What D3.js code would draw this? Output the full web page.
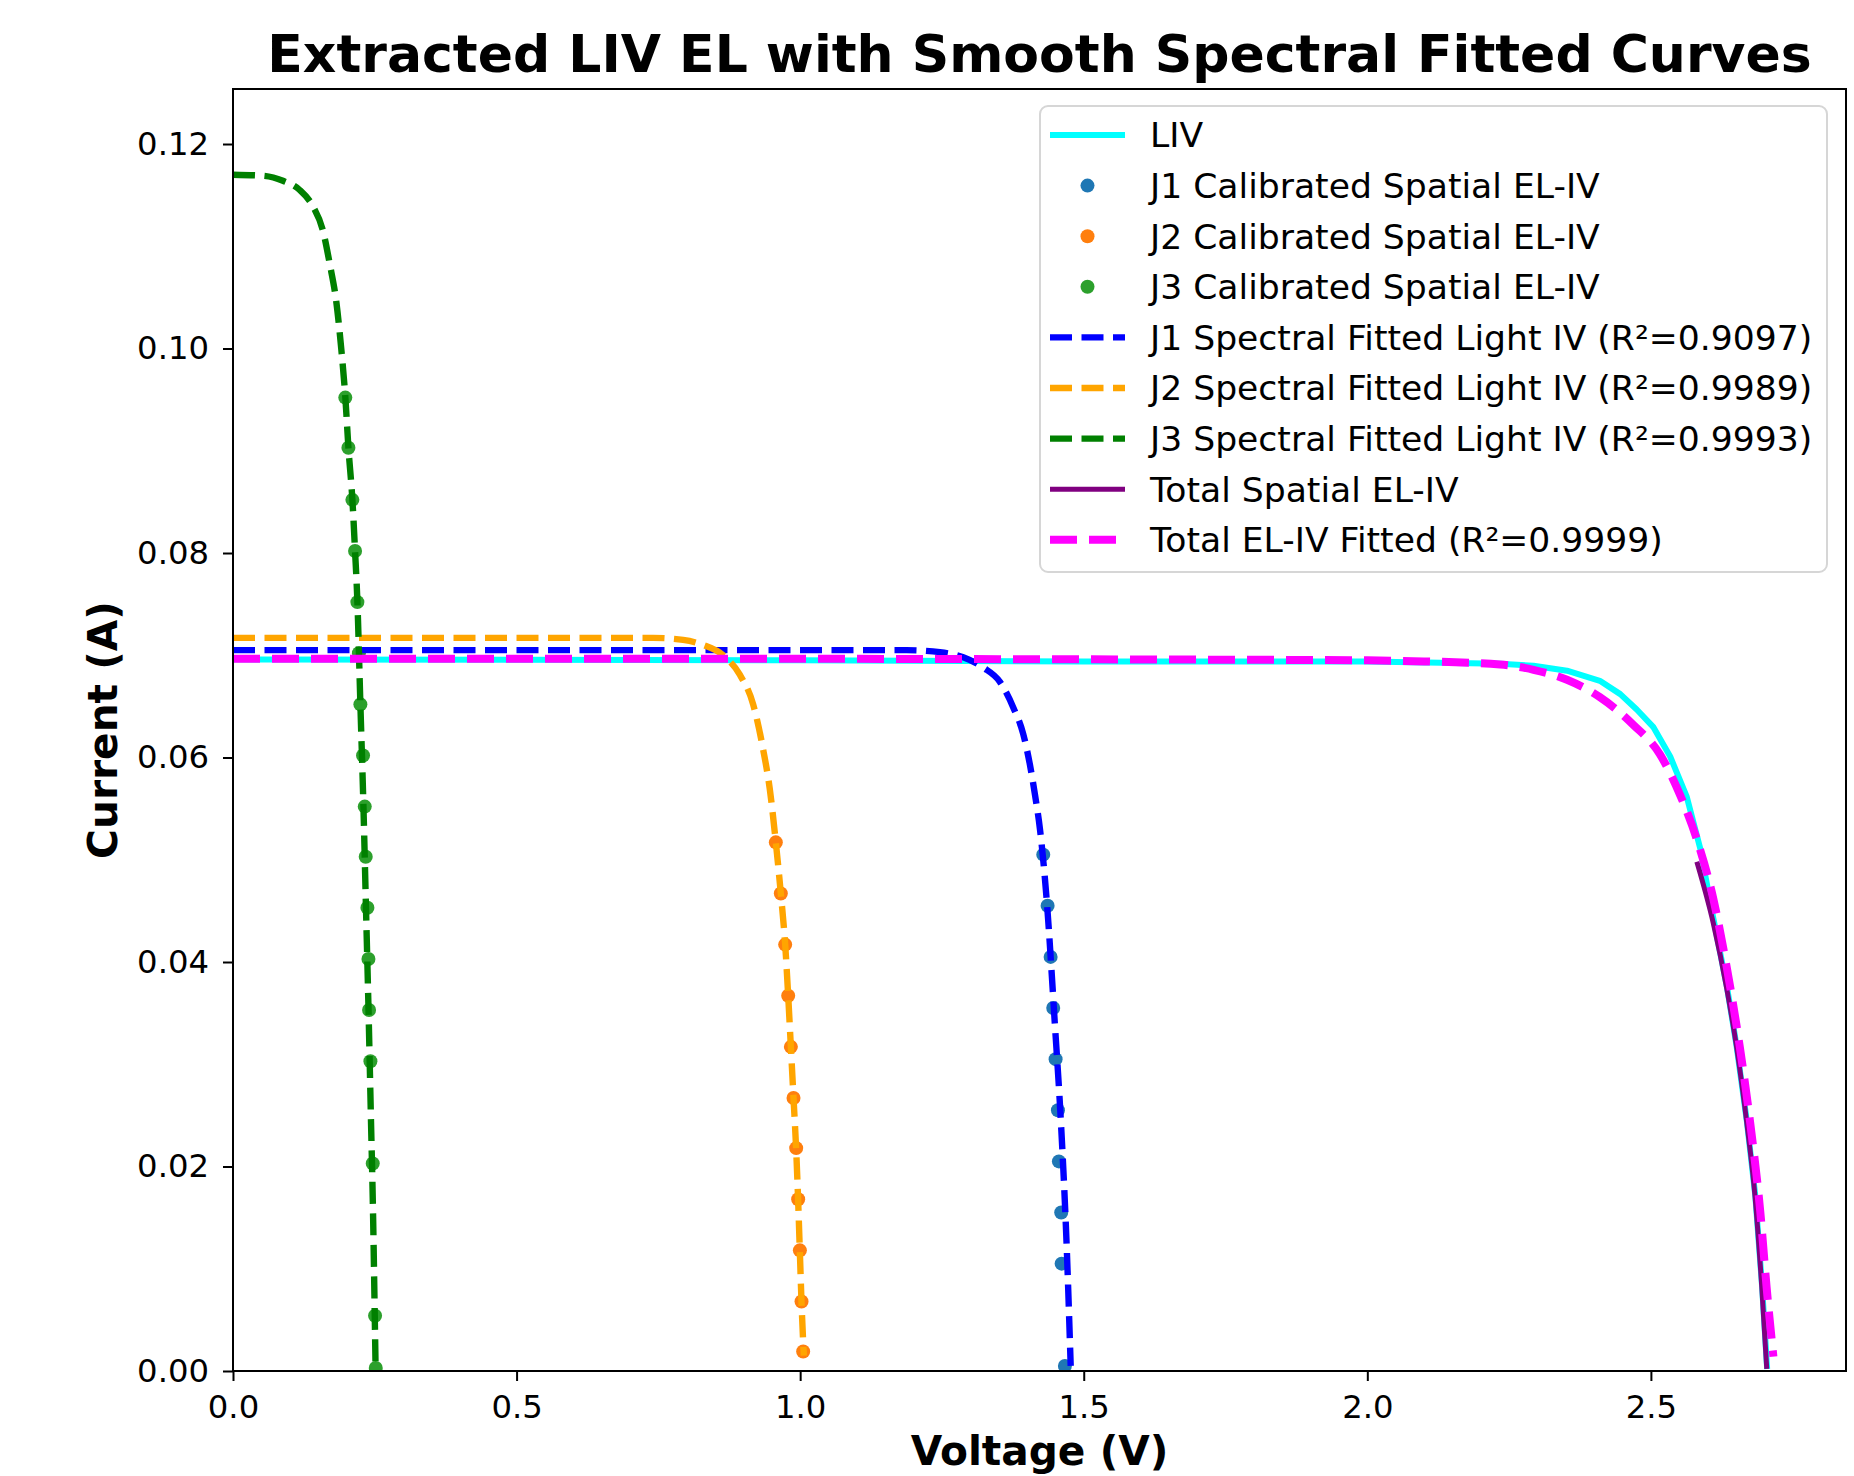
<!DOCTYPE html>
<html lang="en">
<head>
<meta charset="UTF-8">
<title>Extracted LIV EL with Smooth Spectral Fitted Curves</title>
<script src="https://d3js.org/d3.v7.min.js"></script>
<style>
  body { margin: 0; background: white; }
  svg { display: block; font-family: "DejaVu Sans", sans-serif; }
</style>
</head>
<body>
<div id="chart"></div>
<script>
// ---- data: [voltage (V), current (A)] ----
var livData = [[0,0.0696],[0.5,0.06955],[1.0,0.0695],[1.5,0.0694],[2.0,0.0694],[2.234,0.06916],
  [2.293,0.06897],[2.352,0.06849],[2.41,0.0675],[2.446,0.0662],[2.475,0.0647],[2.504,0.0630],
  [2.534,0.0601],[2.563,0.0562],[2.587,0.0511],[2.61,0.0443],[2.634,0.0376],[2.651,0.0318],
  [2.669,0.0245],[2.684,0.0172],[2.696,0.0083],[2.705,0.0002]];

var j1Points = [[1.4286,0.0505],[1.4363,0.0455],[1.4416,0.0405],[1.4462,0.0355],[1.4504,0.0305],
  [1.4545,0.0255],[1.4562,0.0205],[1.4603,0.0155],[1.461,0.0105],[1.4668,0.0005]];
var j2Points = [[0.9571,0.0517],[0.9659,0.0467],[0.9736,0.0417],[0.9789,0.0367],[0.9836,0.0317],
  [0.9883,0.0267],[0.993,0.0218],[0.9965,0.0168],[0.9995,0.0118],[1.0024,0.0068],[1.0053,0.0019]];
var j3Points = [[0.198,0.0952],[0.2035,0.0903],[0.2105,0.0852],[0.2152,0.0802],[0.2193,0.0752],
  [0.222,0.0702],[0.2246,0.0652],[0.2293,0.0602],[0.2323,0.0552],[0.234,0.0503],[0.237,0.0453],
  [0.2388,0.0403],[0.2399,0.0353],[0.2423,0.0303],[0.2464,0.0203],[0.2505,0.0054],[0.2517,0.0003]];

var j1Fit = [[0,0.0705],[0.6,0.0705],[1.1876,0.0705],[1.2464,0.0703],[1.2875,0.0698],[1.3228,0.0688],
  [1.3522,0.0674],[1.3757,0.0649],[1.3933,0.0623],[1.4051,0.0593],[1.4139,0.0564],[1.4228,0.0530],
  [1.4345,0.0462],[1.449,0.0340],[1.4598,0.0243],[1.470,0.0121],[1.477,0.0005]];
var j2Fit = [[0,0.0717],[0.4,0.0717],[0.7408,0.0717],[0.7937,0.0715],[0.829,0.0710],[0.8642,0.0700],
  [0.8936,0.0681],[0.9171,0.0652],[0.9347,0.0608],[0.9465,0.0569],[0.9571,0.0517],[0.9659,0.0467],
  [0.9736,0.0417],[0.9789,0.0367],[0.9836,0.0317],[0.9883,0.0267],[0.993,0.0216],[0.9965,0.0166],
  [0.9995,0.0116],[1.0024,0.0067],[1.0065,0.0015]];
var j3Fit = [[0,0.1170],[0.053,0.1169],[0.088,0.1164],[0.1176,0.1155],[0.141,0.1139],[0.1587,0.1115],
  [0.1705,0.1083],[0.1823,0.1045],[0.191,0.0999],[0.198,0.0953],[0.2035,0.0903],[0.2105,0.0852],
  [0.2152,0.0802],[0.2193,0.0753],[0.2246,0.0652],[0.2300,0.0552],[0.2345,0.0452],[0.2390,0.0352],
  [0.2430,0.0252],[0.2470,0.0152],[0.2500,0.0052],[0.2515,0.0]];

var totalSpatial = [[2.581,0.0498],[2.610,0.0438],[2.6337,0.0374],[2.6513,0.0316],[2.669,0.0243],
  [2.6837,0.0170],[2.6955,0.0082],[2.7043,0.0002]];
var totalFit = [[0,0.06965],[1.0,0.06965],[1.5,0.0696],[2.0,0.0695],[2.1,0.0694],[2.234,0.0691],
  [2.293,0.06858],[2.352,0.0676],[2.41,0.0659],[2.469,0.0632],[2.516,0.0603],[2.551,0.0564],
  [2.581,0.0520],[2.61,0.0462],[2.634,0.0394],[2.657,0.0316],[2.675,0.0243],[2.693,0.0155],
  [2.704,0.0082],[2.716,0.0014]];

var xTicks = [0, 0.5, 1.0, 1.5, 2.0, 2.5];
var yTicks = [0, 0.02, 0.04, 0.06, 0.08, 0.10, 0.12];

var legendLabels = ["LIV", "J1 Calibrated Spatial EL-IV", "J2 Calibrated Spatial EL-IV",
  "J3 Calibrated Spatial EL-IV", "J1 Spectral Fitted Light IV (R\u00b2=0.9097)",
  "J2 Spectral Fitted Light IV (R\u00b2=0.9989)", "J3 Spectral Fitted Light IV (R\u00b2=0.9993)",
  "Total Spatial EL-IV", "Total EL-IV Fitted (R\u00b2=0.9999)"];

// ---- layout ----
var W = 1854, H = 1476;
var margin = {top: 89, right: 8, bottom: 105, left: 233};
var width = W - margin.left - margin.right,
    height = H - margin.top - margin.bottom;

var svg = d3.select("#chart").append("svg")
    .attr("width", W)
    .attr("height", H);

var g = svg.append("g")
    .attr("transform", "translate(" + margin.left + "," + margin.top + ")");

var x = d3.scaleLinear().domain([0, 2.844]).range([0, width]);
var y = d3.scaleLinear().domain([0, 0.12538]).range([height, 0]);

g.append("clipPath").attr("id", "plotclip")
  .append("rect").attr("width", width).attr("height", height);

var plot = g.append("g").attr("clip-path", "url(#plotclip)");

var line = d3.line()
    .x(function(d) { return x(d[0]); })
    .y(function(d) { return y(d[1]); });
var smooth = d3.line()
    .x(function(d) { return x(d[0]); })
    .y(function(d) { return y(d[1]); })
    .curve(d3.curveMonotoneX);

// LIV
plot.append("path").datum(livData)
    .attr("d", line).attr("fill", "none")
    .attr("stroke", "#00ffff").attr("stroke-width", 6).attr("stroke-linejoin", "round");

// calibrated spatial points
var pointSets = [[j1Points, "#1f77b4"], [j2Points, "#ff7f0e"], [j3Points, "#2ca02c"]];
pointSets.forEach(function(p) {
  plot.selectAll(null).data(p[0]).enter().append("circle")
    .attr("cx", function(d) { return x(d[0]); })
    .attr("cy", function(d) { return y(d[1]); })
    .attr("r", 7)
    .attr("fill", p[1]);
});

// spectral fits
var fits = [[j1Fit, "#0000ff"], [j2Fit, "#ffa500"], [j3Fit, "#008000"]];
fits.forEach(function(f) {
  plot.append("path").datum(f[0])
    .attr("d", smooth).attr("fill", "none")
    .attr("stroke", f[1]).attr("stroke-width", 6.4)
    .attr("stroke-dasharray", "22,9.5");
});

// total spatial and total fit
plot.append("path").datum(totalSpatial)
    .attr("d", smooth).attr("fill", "none")
    .attr("stroke", "#800080").attr("stroke-width", 5);
plot.append("path").datum(totalFit)
    .attr("d", smooth).attr("fill", "none")
    .attr("stroke", "#ff00ff").attr("stroke-width", 8)
    .attr("stroke-dasharray", "27,12");

// axes
var xAxis = g.append("g")
    .attr("transform", "translate(0," + height + ")")
    .call(d3.axisBottom(x).tickValues(xTicks).tickFormat(d3.format(".1f")).tickSize(10).tickPadding(14));
var yAxis = g.append("g")
    .call(d3.axisLeft(y).tickValues(yTicks).tickFormat(d3.format(".2f")).tickSize(10).tickPadding(14));
[xAxis, yAxis].forEach(function(a) {
  a.select(".domain").remove();
  a.selectAll("line").attr("stroke", "#000").attr("stroke-width", 2);
  a.selectAll("text").attr("fill", "#000").style("font-size", "32.3px")
    .style("font-family", "DejaVu Sans");
});

g.append("rect")
    .attr("width", width).attr("height", height)
    .attr("fill", "none").attr("stroke", "#000").attr("stroke-width", 2);

// titles
svg.append("text")
    .attr("x", margin.left + width / 2).attr("y", 72)
    .attr("text-anchor", "middle")
    .style("font-size", "52px").style("font-weight", "bold")
    .text("Extracted LIV EL with Smooth Spectral Fitted Curves");

svg.append("text")
    .attr("x", margin.left + width / 2).attr("y", 1465)
    .attr("text-anchor", "middle")
    .style("font-size", "40.7px").style("font-weight", "bold")
    .text("Voltage (V)");

svg.append("text")
    .attr("transform", "translate(117," + (margin.top + height / 2) + ") rotate(-90)")
    .attr("text-anchor", "middle")
    .style("font-size", "40.7px").style("font-weight", "bold")
    .text("Current (A)");

// legend
var legend = svg.append("g").attr("transform", "translate(1040,106)");
legend.append("rect")
    .attr("width", 787).attr("height", 466)
    .attr("rx", 8).attr("ry", 8)
    .attr("fill", "white").attr("fill-opacity", 0.8)
    .attr("stroke", "#d6d6d6").attr("stroke-width", 2);

var legendStyles = [
  {type: "line", color: "#00ffff", w: 6, dash: null},
  {type: "dot", color: "#1f77b4"},
  {type: "dot", color: "#ff7f0e"},
  {type: "dot", color: "#2ca02c"},
  {type: "line", color: "#0000ff", w: 6.4, dash: "22,9.5"},
  {type: "line", color: "#ffa500", w: 6.4, dash: "22,9.5"},
  {type: "line", color: "#008000", w: 6.4, dash: "22,9.5"},
  {type: "line", color: "#800080", w: 5, dash: null},
  {type: "line", color: "#ff00ff", w: 8, dash: "27,12"}
];

legendLabels.forEach(function(lbl, i) {
  var cy = 29 + i * 50.6;
  var s = legendStyles[i];
  if (s.type === "line") {
    legend.append("line")
      .attr("x1", 10).attr("x2", 85).attr("y1", cy).attr("y2", cy)
      .attr("stroke", s.color).attr("stroke-width", s.w)
      .attr("stroke-dasharray", s.dash);
  } else {
    legend.append("circle").attr("cx", 47.5).attr("cy", cy).attr("r", 7).attr("fill", s.color);
  }
  legend.append("text")
    .attr("x", 110).attr("y", cy)
    .attr("dy", "0.36em")
    .style("font-size", "34.6px")
    .text(lbl);
});
</script>
</body>
</html>
